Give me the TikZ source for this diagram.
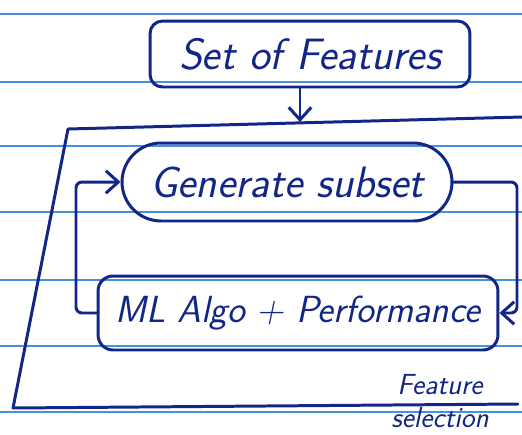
\documentclass[tikz,border=0pt]{standalone}
\usepackage{tikz}
\usetikzlibrary{arrows.meta,shapes.misc}
\definecolor{ink}{RGB}{18,38,135}
\definecolor{ruleblue}{RGB}{70,145,220}
\tikzset{
  sketch/.style = {ink, line width=1.7pt, line cap=round, line join=round},
  box_txt/.style = {font=\sffamily\slshape\fontsize{25}{29}\selectfont, text=ink, align=center, inner sep=0pt},
  box_r/.style = {box_txt, sketch, draw=ink, rounded corners=0.25cm},
  box_o/.style = {box_txt, sketch, draw=ink, rounded rectangle},
  flow/.style = {sketch, -{Straight Barb[length=2.5mm, width=4.5mm]}},
}

\begin{document}
\begin{tikzpicture}[x=0.02cm, y=-0.02cm]
  \useasboundingbox (0,0) rectangle (522,434);
  % ruled paper
  \foreach \ry in {14,82,146,212,280,346,412}
    \draw[ruleblue, line width=0.8pt] (0,\ry) -- (522,\ry);

  % open frame round the selection loop
  \coordinate (sel_tr) at (522,117);
  \coordinate (sel_tl) at (68,129);
  \coordinate (sel_bl) at (13,408);
  \coordinate (sel_br) at (518,404);
  \draw[sketch] (sel_tr) -- (sel_tl) -- (sel_bl) -- (sel_br);

  \node [box_r, minimum width=6.4cm, minimum height=1.32cm] (feats) at (310,54) {Set of Features};
  \node [box_o, minimum width=6.6cm, minimum height=1.56cm] (gen) at (287,182) {Generate subset};
  \node [box_r, font=\sffamily\slshape\fontsize{21.5}{25}\selectfont,
         minimum width=8.0cm, minimum height=1.48cm, rounded corners=0.3cm] (algo) at (298,313) {ML Algo + Performance};

  \node [text=ink, font=\sffamily\slshape\fontsize{16.5}{19}\selectfont, align=center, inner sep=0pt]
    (fsel) at (440,401) {Feature\\selection};

  % into the frame
  \coordinate (hit) at (300,122);
  \draw[flow] (feats.south -| hit) -- (hit);

  % loop between the two steps
  \coordinate (r_side) at (517,0);
  \coordinate (l_side) at (76,0);
  \draw[flow, rounded corners=0.12cm] (gen.east) -| (r_side |- algo.east) -- (algo.east);
  \draw[flow, rounded corners=0.12cm] (algo.west) -| (l_side |- gen.west) -- (gen.west);
\end{tikzpicture}
\end{document}
